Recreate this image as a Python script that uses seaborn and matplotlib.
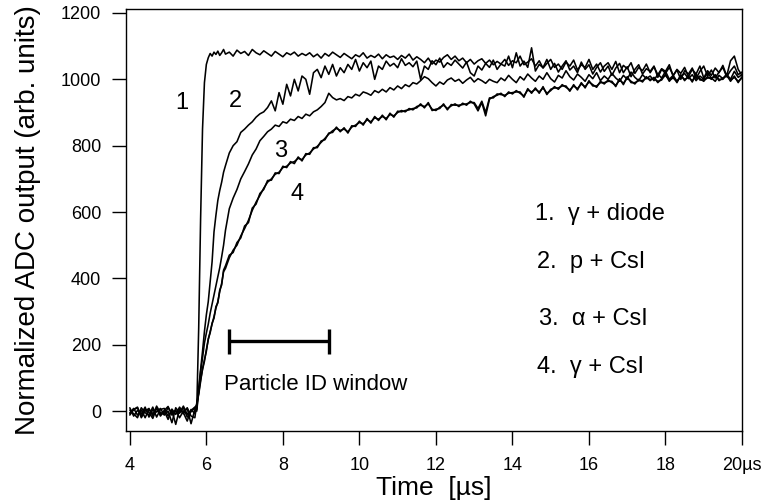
import numpy as np
import pandas as pd
import matplotlib
matplotlib.use("Agg")
import matplotlib.pyplot as plt
import seaborn as sns

# ---------------- data ----------------
T_BASE = np.round(np.arange(4.0, 5.71, 0.1), 2)    # 18 samples
T_RISE = np.round(np.arange(5.75, 6.51, 0.05), 2)  # 16 samples
T_TAIL = np.round(np.arange(6.6, 20.01, 0.1), 2)   # 135 samples
TIME = np.concatenate([T_BASE, T_RISE, T_TAIL])

# 1. gamma + diode
c1_base = [-5, 8, -12, 3, -20, 5, -8, 10, -15, 0, -25, 6, -10, 12, -5, -30, 5, -8]
c1_rise = [10, 250, 580, 850, 990, 1045, 1065, 1078, 1070, 1082, 1075, 1085, 1072, 1080, 1090, 1076]
c1_tail = [1082, 1070, 1088, 1078, 1084, 1072, 1090, 1080, 1074, 1086,
           1078, 1070, 1084, 1076, 1068, 1080, 1074, 1082, 1070, 1078,
           1072, 1080, 1068, 1076, 1064, 1078, 1070, 1082, 1074, 1066,
           1078, 1070, 1062, 1074, 1068, 1080, 1064, 1072, 1066, 1076,
           1062, 1074, 1066, 1070, 1060, 1072, 1064, 1076, 1058, 1068,
           1060, 1050, 1064, 1046, 1058, 1052, 1066, 1074, 1060, 1070,
           1056, 1064, 1050, 1060, 1046, 1056, 1062, 1048, 1058, 1044,
           1054, 1046, 1060, 1042, 1056, 1050, 1070, 1044, 1052, 1062,
           1040, 1056, 1034, 1048, 1060, 1036, 1046, 1030, 1052, 1040,
           1058, 1028, 1044, 1036, 1060, 1030, 1046, 1022, 1040, 1050,
           1030, 1054, 1020, 1042, 1032, 1050, 1018, 1036, 1026, 1046,
           1020, 1038, 1014, 1032, 1024, 1044, 1010, 1030, 1018, 1036,
           1008, 1030, 1016, 1040, 1004, 1026, 1012, 1034, 1020, 1042,
           1010, 1056, 1070, 1030, 1012]

# 2. p + CsI
c2_base = [10, -15, 2, -8, 12, -18, 4, -3, 8, -12, 0, -35, 10, -5, 15, -10, 2, 12]
c2_rise = [5, 70, 125, 180, 240, 290, 330, 390, 450, 540, 590, 635, 665, 690, 720, 740]
c2_tail = [778, 800, 812, 840, 850, 862, 872, 886, 896, 902,
           915, 935, 905, 960, 925, 985, 950, 1000, 965, 1010,
           1000, 955, 1020, 1030, 1005, 1040, 1015, 1045, 1010, 1035,
           1020, 1045, 1030, 1060, 1025, 1050, 1035, 1055, 1000, 1040,
           1030, 1055, 1040, 1048, 1035, 1062, 1042, 1050, 1038, 1055,
           1000, 1040, 1030, 1056, 1044, 1064, 1036, 1050, 1042, 1058,
           1046, 1034, 1052, 1020, 1010, 1040, 1028, 1048, 1036, 1058,
           1030, 1046, 1040, 1070, 1035, 1080, 1040, 1055, 1036, 1095,
           1025, 1045, 1035, 1060, 1030, 1048, 1022, 1040, 1056, 1028,
           1040, 1020, 1052, 1030, 1044, 1016, 1036, 1050, 1024, 1040,
           1012, 1034, 1048, 1020, 1038, 1008, 1030, 1044, 1016, 1032,
           1024, 1040, 1006, 1030, 1018, 1036, 1012, 1028, 1000, 1026,
           1016, 1034, 1002, 1024, 1040, 1010, 1028, 1004, 1022, 1036,
           1008, 1026, 1040, 1014, 1022]

# 3. alpha + CsI
c3_base = [-12, 5, 12, -20, 0, 8, -15, 15, -5, -10, 10, -6, 3, -20, 0, 8, -38, 5]
c3_rise = [0, 60, 120, 160, 205, 235, 262, 295, 322, 350, 378, 405, 432, 465, 500, 545]
c3_tail = [610, 642, 668, 700, 722, 745, 772, 790, 815, 828,
           842, 850, 862, 858, 872, 868, 880, 876, 888, 882,
           895, 890, 902, 908, 918, 930, 958, 945, 938, 942,
           936, 948, 944, 955, 950, 962, 958, 952, 966, 960,
           970, 962, 975, 968, 980, 972, 984, 978, 990, 986,
           996, 1008, 1002, 990, 980, 992, 985, 998, 1004, 994,
           1000, 988, 998, 1006, 992, 1002, 996, 988, 1000, 994,
           990, 1004, 996, 1012, 1000, 990, 1008, 998, 1016, 1004,
           994, 1010, 1000, 1020, 1002, 992, 1012, 1004, 1026, 1008,
           998, 1016, 1006, 994, 1014, 1002, 1020, 996, 1010, 1000,
           1018, 1004, 994, 1012, 1000, 1022, 1006, 996, 1014, 1002,
           1010, 996, 1016, 1004, 1024, 1000, 1012, 994, 1008, 1018,
           1002, 1014, 996, 1010, 1000, 1020, 1004, 994, 1012, 1002,
           1016, 1000, 1024, 1006, 1014]

# 4. gamma + CsI (two overlaid traces)
c4_base = [3, -8, -20, 10, -5, -12, 12, -18, 5, 8, -15, 2, -40, 6, -8, 10, -15, -20]
c4_rise = [25, 55, 95, 125, 150, 185, 215, 240, 262, 285, 310, 330, 360, 385, 420, 430]
c4_tail = [462, 485, 500, 528, 550, 575, 605, 630, 650, 672,
           690, 700, 714, 720, 734, 738, 748, 752, 762, 758,
           772, 778, 790, 798, 810, 822, 835, 845, 852, 846,
           850, 842, 856, 862, 870, 866, 878, 872, 884, 880,
           888, 882, 894, 890, 900, 906, 902, 912, 908, 918,
           922, 918, 926, 910, 906, 916, 922, 912, 920, 926,
           918, 928, 922, 934, 926, 905, 930, 890, 940, 948,
           952, 958, 948, 962, 956, 966, 958, 950, 968, 962,
           970, 962, 974, 958, 966, 978, 970, 984, 976, 968,
           980, 972, 986, 978, 992, 984, 976, 994, 986, 998,
           990, 982, 998, 988, 1004, 994, 986, 1000, 992, 1008,
           996, 1006, 990, 1002, 1012, 998, 1004, 994, 1010, 1000,
           1006, 996, 1012, 1002, 994, 1008, 1000, 1014, 996, 1004,
           1010, 998, 1006, 994, 1004]
c4b_base = [-8, 4, 10, -15, 6, -4, -22, 8, -10, 2, 14, -12, 0, -6, 10, -18, -2, 10]
c4b_rise = [20, 50, 90, 128, 155, 180, 218, 236, 265, 280, 315, 326, 365, 380, 425, 438]
c4b_tail = [470, 478, 508, 522, 558, 568, 612, 624, 656, 668,
            695, 696, 718, 716, 738, 734, 752, 746, 766, 754,
            776, 774, 794, 794, 814, 818, 838, 840, 856, 842,
            854, 838, 860, 858, 874, 862, 882, 868, 888, 876,
            892, 878, 898, 886, 904, 902, 906, 908, 912, 914,
            926, 914, 930, 906, 910, 912, 926, 908, 924, 922,
            922, 924, 926, 930, 930, 912, 934, 900, 944, 944,
            956, 954, 952, 958, 960, 962, 962, 946, 972, 958,
            974, 958, 978, 954, 970, 974, 974, 980, 980, 964,
            984, 968, 990, 974, 996, 980, 980, 990, 990, 994,
            994, 978, 1002, 984, 1008, 990, 990, 996, 996, 1004,
            1000, 1002, 994, 998, 1016, 994, 1008, 990, 1014, 996,
            1010, 992, 1016, 998, 998, 1004, 1004, 1010, 1000, 1000,
            1014, 994, 1010, 990, 1008]

TRACES = {
    "1": c1_base + c1_rise + c1_tail,
    "2": c2_base + c2_rise + c2_tail,
    "3": c3_base + c3_rise + c3_tail,
    "4": c4_base + c4_rise + c4_tail,
    "4b": c4b_base + c4b_rise + c4b_tail,
}

CURVE_LABELS = ["1", "2", "3", "4"]
CURVE_LABEL_POS_X = [5.36, 6.77, 7.94, 8.38]
CURVE_LABEL_POS_Y = [930, 935, 785, 655]

LEGEND_TEXT = ["1.  \u03b3 + diode", "2.  p + CsI", "3.  \u03b1 + CsI", "4.  \u03b3 + CsI"]
LEGEND_X = [14.60, 14.63, 14.70, 14.65]
LEGEND_Y = [594, 449, 277, 134]

PID_WINDOW = (6.6, 9.2)
PID_Y = 210
PID_TEXT = "Particle ID window"

X_TICKS = [4, 6, 8, 10, 12, 14, 16, 18, 20]
X_TICKLABELS = ["4", "6", "8", "10", "12", "14", "16", "18", "20\u00b5s"]
Y_TICKS = [0, 200, 400, 600, 800, 1000, 1200]

# ---------------- build frame ----------------
rows = []
for name, vals in TRACES.items():
    assert len(vals) == len(TIME), (name, len(vals))
    for t, v in zip(TIME, vals):
        rows.append({"t": t, "v": v, "trace": name})
df = pd.DataFrame(rows)

sns.set_style("ticks")
plt.rcParams["font.family"] = ["Liberation Sans", "DejaVu Sans"]
plt.rcParams["text.color"] = "black"
plt.rcParams["axes.labelcolor"] = "black"
plt.rcParams["xtick.color"] = "black"
plt.rcParams["ytick.color"] = "black"

fig = plt.figure(figsize=(7.62, 5.01), dpi=100)
ax = fig.add_axes([126 / 762, 1 - 431 / 501, (742 - 126) / 762, (431 - 9) / 501])

sns.lineplot(data=df, x="t", y="v", units="trace", estimator=None, sort=False,
             color="black", linewidth=1.15, ax=ax, legend=False)

ax.set_xlim(3.9, 20.0)
ax.set_ylim(-60, 1212)
ax.set_xticks(X_TICKS)
ax.set_xticklabels(X_TICKLABELS)
ax.set_yticks(Y_TICKS)

for s in ax.spines.values():
    s.set_visible(True)
    s.set_linewidth(1.0)
    s.set_color("black")
ax.tick_params(axis="both", direction="out", length=10, width=1.0, labelsize=13,
               colors="black", labelcolor="black")
ax.tick_params(axis="x", pad=9)
ax.tick_params(axis="y", pad=8)
ax.tick_params(top=False, right=False)

ax.set_xlabel("Time  [\u00b5s]", fontsize=19, labelpad=1, color="black")
ax.set_ylabel("Normalized ADC output (arb. units)", fontsize=20, labelpad=14, color="black")

for lab, x, y in zip(CURVE_LABELS, CURVE_LABEL_POS_X, CURVE_LABEL_POS_Y):
    ax.text(x, y, lab, fontsize=17, ha="center", va="center", color="black")

for txt, x, y in zip(LEGEND_TEXT, LEGEND_X, LEGEND_Y):
    ax.text(x, y, txt, fontsize=17, ha="left", va="center", color="black")

mid = (PID_WINDOW[0] + PID_WINDOW[1]) / 2
half = (PID_WINDOW[1] - PID_WINDOW[0]) / 2
ax.errorbar([mid], [PID_Y], xerr=[half], fmt="none", ecolor="black",
            elinewidth=2.4, capsize=9, capthick=2.4)
ax.text(6.45, 80, PID_TEXT, fontsize=16, ha="left", va="center", color="black")

fig.savefig("out.png", dpi=100)
